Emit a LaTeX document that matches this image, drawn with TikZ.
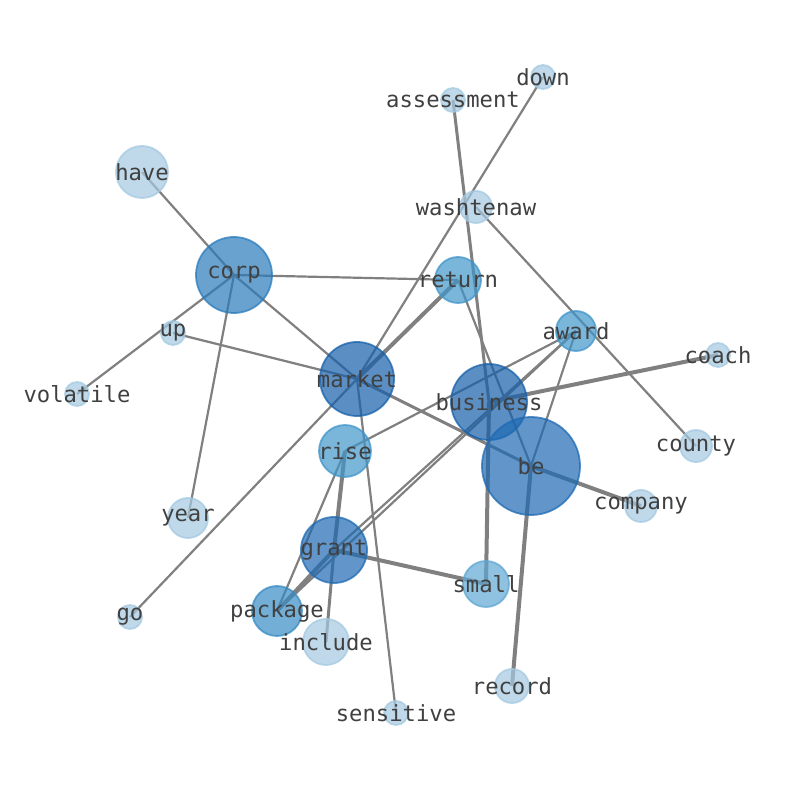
\documentclass[tikz,border=0pt]{standalone}
\usepackage{fontspec}
\newfontfamily\wordfont{DejaVu Sans Mono}
\usetikzlibrary{shapes}
\pgfdeclarelayer{bg}
\pgfsetlayers{bg,main}
\definecolor{bluel}{HTML}{A4C9E1}
\definecolor{blues}{HTML}{5FA7D3}
\definecolor{bluem}{HTML}{4195CA}
\definecolor{bluep}{HTML}{378BC4}
\definecolor{bluec}{HTML}{2A7BBB}
\definecolor{blueg}{HTML}{1F6AB3}
\definecolor{blued}{HTML}{1660AB}
\tikzstyle{wd} = [circle, inner sep=0pt, outer sep=0pt, line width=0.9pt,
    fill opacity=0.7, draw opacity=0.75]
\tikzstyle{lo} = [wd, draw=bluel, fill=bluel]
\tikzstyle{md} = [wd, draw=bluem, fill=bluem]
\tikzstyle{hi} = [wd, draw=blued, fill=blued]
\tikzstyle{wl} = [font=\wordfont\fontsize{11.1}{13}\selectfont, text=black!75,
    inner sep=0pt, fill opacity=1, draw opacity=1, text opacity=1]
\tikzstyle{lk} = [draw=black!50, line width=1.1pt]
\tikzstyle{lkm} = [lk, line width=1.5pt]
\tikzstyle{lkb} = [lk, line width=2pt]

\begin{document}
\begin{tikzpicture}[x=0.5pt,y=-0.5pt]
  \useasboundingbox (0,0) rectangle (794,790);

  \node[lo,minimum size=12pt,label={[wl]center:down}]       (down)       at (543,77)  {};
  \node[lo,minimum size=12pt,label={[wl]center:assessment}] (assessment) at (453,100) {};
  \node[lo,minimum size=26pt,label={[wl]center:have}]       (have)       at (142,172) {};
  \node[lo,minimum size=16pt,label={[wl]center:washtenaw}]  (washtenaw)  at (476,207) {};
  \node[wd,draw=bluec,fill=bluec,minimum size=38pt,label={[wl]center:corp}] (corp) at (234,275) {};
  \node[md,minimum size=23pt,label={[wl]center:return}]     (return)     at (458,280) {};
  \node[lo,minimum size=12pt,label={[wl]center:up}]         (up)         at (173,333) {};
  \node[md,minimum size=20pt,label={[wl]center:award}]      (award)      at (576,331) {};
  \node[lo,minimum size=12pt,label={[wl]center:coach}]      (coach)      at (718,355) {};
  \node[hi,minimum size=37pt,label={[wl]center:market}]     (market)     at (357,379) {};
  \node[lo,minimum size=12pt,label={[wl]center:volatile}]   (volatile)   at (77,394)  {};
  \node[hi,minimum size=38pt,label={[wl]center:business}]   (business)   at (489,402) {};
  \node[lo,minimum size=16pt,label={[wl]center:county}]     (county)     at (696,446) {};
  \node[md,minimum size=26pt,label={[wl]center:rise}]       (rise)       at (345,451) {};
  \node[wd,draw=blueg,fill=blueg,minimum size=49pt,label={[wl]center:be}] (be) at (531,466) {};
  \node[lo,minimum size=16pt,label={[wl]center:company}]    (company)    at (641,506) {};
  \node[lo,minimum size=20pt,label={[wl]center:year}]       (year)       at (188,518) {};
  \node[wd,draw=blueg,fill=blueg,minimum size=33pt,label={[wl]center:grant}] (grant) at (334,550) {};
  \node[wd,draw=blues,fill=blues,minimum size=23pt,label={[wl]center:small}] (small) at (486,584) {};
  \node[lo,minimum size=12pt,label={[wl]center:go}]         (go)         at (130,617) {};
  \node[wd,draw=bluep,fill=bluep,minimum size=25pt,label={[wl]center:package}] (package) at (277,611) {};
  \node[lo,minimum size=23pt,label={[wl]center:include}]    (include)    at (326,642) {};
  \node[lo,minimum size=17pt,label={[wl]center:record}]     (record)     at (512,686) {};
  \node[lo,minimum size=12pt,label={[wl]center:sensitive}]  (sensitive)  at (396,713) {};

  \begin{pgfonlayer}{bg}
  \path (have.center) edge[lk] (corp.center)
        (corp.center) edge[lk] (return.center)
        (corp.center) edge[lk] (market.center)
        (corp.center) edge[lk] (year.center)
        (corp.center) edge[lk] (volatile.center)
        (up.center) edge[lk] (market.center)
        (down.center) edge[lk] (market.center)
        (market.center) edge[lk] (go.center)
        (market.center) edge[lkm] (be.center)
        (market.center) edge[lk] (sensitive.center)
        (market.center) edge[lkb] (return.center)
        (return.center) edge[lk] (be.center)
        (assessment.center) edge[lkm] (business.center)
        (washtenaw.center) edge[lk] (county.center)
        (award.center) edge[lk] (rise.center)
        (award.center) edge[lk] (grant.center)
        (award.center) edge[lk] (package.center)
        (award.center) edge[lk] (be.center)
        (business.center) edge[lkb] (coach.center)
        (business.center) edge[lkb] (small.center)
        (rise.center) edge[lk] (package.center)
        (rise.center) edge[lkb] (grant.center)
        (grant.center) edge[lkm] (include.center)
        (grant.center) edge[lkb] (small.center)
        (grant.center) edge[lkb] (package.center)
        (be.center) edge[lkb] (record.center)
        (be.center) edge[lkb] (company.center);
  \end{pgfonlayer}
\end{tikzpicture}
\end{document}
